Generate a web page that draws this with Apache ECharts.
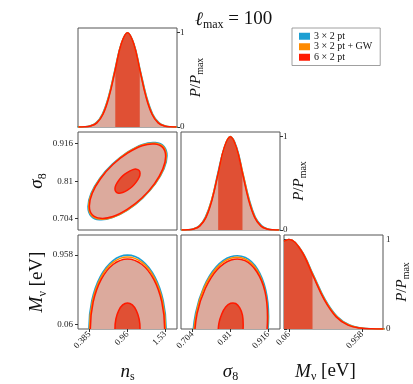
<!DOCTYPE html>
<html><head><meta charset="utf-8">
<script src="https://cdn.jsdelivr.net/npm/echarts@6/dist/echarts.min.js"></script>
<style>html,body{margin:0;padding:0;background:#fff}#c{width:413px;height:384px}</style>
</head><body><div id="c"></div>
<script>
// ---------- names / colours ----------
const seriesNames = ['3 × 2 pt', '3 × 2 pt + GW', '6 × 2 pt'];
const seriesColors = ['#1c9fd3', '#ff8a00', '#ff1a00'];
const fillLight = '#dcaa9d';
const fillDark = '#e05034';

// ---------- axes ----------
const nsTicks = [0.385, 0.96, 1.53];
const s8Ticks = [0.704, 0.81, 0.916];
const mnuTicks = [0.06, 0.958];
const pTicks = [0, 1];
const nsRange = [0.21, 1.71];
const s8Range = [0.672, 0.949];
const mnuRange = [0, 1.215];
const pRange = [0, 1.05];

// ---------- 1D marginals (P/Pmax) ----------
const pdfLevels = [0.0003,0.0022,0.0111,0.0439,0.1353,0.3247,0.6065,0.8825,1,0.8825,0.6065,0.3247,0.1353,0.0439,0.0111,0.0022,0.0003];
const ns1D_3x2pt   = [0.196,0.292,0.387,0.483,0.578,0.674,0.769,0.865,0.96,1.056,1.151,1.247,1.342,1.438,1.533,1.629,1.724];
const ns1D_3x2ptGW = [0.206,0.301,0.395,0.489,0.583,0.677,0.772,0.866,0.96,1.054,1.148,1.243,1.337,1.431,1.525,1.619,1.714];
const ns1D_6x2pt   = [0.218,0.311,0.403,0.496,0.589,0.682,0.775,0.867,0.96,1.053,1.146,1.238,1.331,1.424,1.517,1.609,1.702];
const s81D_3x2pt   = [0.670,0.688,0.705,0.723,0.740,0.758,0.775,0.793,0.81,0.828,0.845,0.863,0.880,0.898,0.915,0.933,0.950];
const s81D_3x2ptGW = [0.672,0.689,0.707,0.724,0.741,0.758,0.776,0.793,0.81,0.827,0.845,0.862,0.879,0.896,0.914,0.931,0.948];
const s81D_6x2pt   = [0.674,0.691,0.708,0.725,0.742,0.759,0.776,0.793,0.81,0.827,0.844,0.861,0.878,0.895,0.912,0.929,0.946];
const mnuPdf = [0.979,1,0.8825,0.6065,0.3247,0.1353,0.0439,0.0111,0.0022,0.0003];
const mnu1D_3x2pt   = [0,0.06,0.209,0.358,0.507,0.656,0.805,0.954,1.103,1.252];
const mnu1D_3x2ptGW = [0,0.06,0.207,0.354,0.501,0.648,0.795,0.942,1.089,1.236];
const mnu1D_6x2pt   = [0,0.06,0.205,0.35,0.495,0.64,0.785,0.93,1.075,1.22];
// 68% band (index ranges into the 6x2pt arrays above)
const nsBandIdx = [6, 10];
const s8BandIdx = [6, 10];
const mnuBandIdx = [0, 3];

// ---------- 2D contours (outer and inner) ----------
const nsS8_3x2pt = [[1.558,0.882],[1.513,0.908],[1.383,0.919],[1.189,0.914],[0.96,0.892],[0.731,0.858],[0.537,0.817],[0.407,0.775],[0.362,0.738],[0.407,0.712],[0.537,0.701],[0.731,0.707],[0.96,0.728],[1.189,0.762],[1.383,0.803],[1.513,0.845]];
const nsS8_3x2ptGW = [[1.548,0.881],[1.503,0.907],[1.376,0.917],[1.185,0.912],[0.96,0.891],[0.735,0.857],[0.544,0.817],[0.417,0.775],[0.372,0.739],[0.417,0.713],[0.544,0.703],[0.735,0.708],[0.96,0.729],[1.185,0.763],[1.376,0.803],[1.503,0.844]];
const nsS8_6x2pt = [[1.538,0.880],[1.494,0.905],[1.369,0.915],[1.181,0.910],[0.96,0.889],[0.739,0.857],[0.551,0.817],[0.426,0.776],[0.382,0.740],[0.426,0.715],[0.551,0.705],[0.739,0.710],[0.96,0.731],[1.181,0.763],[1.369,0.803],[1.494,0.844]];
const nsS8_6x2pt_in = [[1.150,0.832],[1.136,0.840],[1.094,0.844],[1.033,0.842],[0.96,0.835],[0.887,0.825],[0.826,0.812],[0.784,0.799],[0.770,0.788],[0.784,0.780],[0.826,0.776],[0.887,0.778],[0.96,0.785],[1.033,0.795],[1.094,0.808],[1.136,0.821]];

const nsMnu_3x2pt = [[1.545,0],[1.501,0.366],[1.374,0.675],[1.184,0.882],[0.96,0.955],[0.736,0.882],[0.546,0.675],[0.419,0.366],[0.375,0],[0.419,-0.366],[0.546,-0.675],[0.736,-0.882],[0.96,-0.955],[1.184,-0.882],[1.374,-0.675],[1.501,-0.366]];
const nsMnu_3x2ptGW = [[1.535,0],[1.491,0.357],[1.367,0.658],[1.180,0.860],[0.96,0.931],[0.740,0.860],[0.553,0.658],[0.429,0.357],[0.385,0],[0.429,-0.357],[0.553,-0.658],[0.740,-0.860],[0.96,-0.931],[1.180,-0.860],[1.367,-0.658],[1.491,-0.357]];
const nsMnu_6x2pt = [[1.523,0],[1.480,0.347],[1.358,0.641],[1.175,0.837],[0.96,0.906],[0.745,0.837],[0.562,0.641],[0.440,0.347],[0.397,0],[0.440,-0.347],[0.562,-0.641],[0.745,-0.837],[0.96,-0.906],[1.175,-0.837],[1.358,-0.641],[1.480,-0.347]];
const nsMnu_6x2pt_in = [[1.150,0],[1.136,0.129],[1.094,0.238],[1.033,0.311],[0.96,0.337],[0.887,0.311],[0.826,0.238],[0.784,0.129],[0.770,0],[0.784,-0.129],[0.826,-0.238],[0.887,-0.311],[0.96,-0.337],[1.033,-0.311],[1.094,-0.238],[1.136,-0.129]];

const s8Mnu_3x2pt = [[0.917,0.161],[0.909,0.506],[0.886,0.774],[0.852,0.924],[0.811,0.933],[0.770,0.801],[0.736,0.546],[0.713,0.208],[0.705,-0.161],[0.713,-0.506],[0.736,-0.774],[0.770,-0.924],[0.811,-0.933],[0.852,-0.801],[0.886,-0.546],[0.909,-0.208]];
const s8Mnu_3x2ptGW = [[0.915,0.158],[0.907,0.495],[0.885,0.757],[0.851,0.905],[0.811,0.913],[0.771,0.784],[0.737,0.535],[0.715,0.204],[0.707,-0.158],[0.715,-0.495],[0.737,-0.757],[0.771,-0.905],[0.811,-0.913],[0.851,-0.784],[0.885,-0.535],[0.907,-0.204]];
const s8Mnu_6x2pt = [[0.914,0.154],[0.907,0.484],[0.884,0.740],[0.851,0.884],[0.812,0.892],[0.773,0.766],[0.740,0.523],[0.717,0.199],[0.710,-0.154],[0.717,-0.484],[0.740,-0.740],[0.773,-0.884],[0.812,-0.892],[0.851,-0.766],[0.884,-0.523],[0.907,-0.199]];
const s8Mnu_6x2pt_in = [[0.846,0.057],[0.844,0.180],[0.836,0.275],[0.825,0.329],[0.811,0.332],[0.797,0.285],[0.786,0.194],[0.778,0.074],[0.776,-0.057],[0.778,-0.180],[0.786,-0.275],[0.797,-0.329],[0.811,-0.332],[0.825,-0.285],[0.836,-0.194],[0.844,-0.074]];

// ---------- helpers ----------
const SERIF = 'Liberation Serif';
const INK = '#111';
function rich(big, small) {
  return {
    i: {fontFamily: SERIF, fontStyle: 'italic', fontWeight: 'normal', fontSize: big, color: INK, lineHeight: big + 4},
    n: {fontFamily: SERIF, fontWeight: 'normal', fontSize: big, color: INK, lineHeight: big + 4},
    s: {fontFamily: SERIF, fontWeight: 'normal', fontSize: small, color: INK, lineHeight: small - 2, verticalAlign: 'bottom'}
  };
}
function contour(name, g, pts, fill, stroke, lw, z) {
  return {
    type: 'custom', name: name, xAxisIndex: g, yAxisIndex: g, coordinateSystem: 'cartesian2d',
    clip: true, silent: true, z: z, data: pts, itemStyle: {color: stroke},
    renderItem: function (params, api) {
      if (params.dataIndex !== 0) return null;
      const p = pts.map(function (q) { return api.coord(q); });
      return {type: 'polygon', shape: {points: p, smooth: 0.34},
              style: {fill: fill || 'none', stroke: stroke, lineWidth: lw}};
    }
  };
}
function curve(name, g, xs, ps, opt) {
  return Object.assign({
    type: 'line', name: name, xAxisIndex: g, yAxisIndex: g, silent: true,
    showSymbol: false, symbol: 'none', smooth: 0.4,
    data: xs.map(function (x, i) { return [x, ps[i]]; })
  }, opt);
}
function pdfPanel(g, xsB, xsO, xsR, ps, band) {
  const bx = xsR.slice(band[0], band[1] + 1), bp = ps.slice(band[0], band[1] + 1);
  return [
    curve(undefined, g, xsR, ps, {z: 2, lineStyle: {width: 0}, areaStyle: {color: fillLight, opacity: 1}}),
    curve(undefined, g, bx, bp, {z: 3, lineStyle: {width: 0}, areaStyle: {color: fillDark, opacity: 1}}),
    curve(seriesNames[0], g, xsB, ps, {z: 4, itemStyle: {color: seriesColors[0]}, lineStyle: {color: seriesColors[0], width: 1.6}}),
    curve(seriesNames[1], g, xsO, ps, {z: 5, itemStyle: {color: seriesColors[1]}, lineStyle: {color: seriesColors[1], width: 1.6}}),
    curve(seriesNames[2], g, xsR, ps, {z: 6, itemStyle: {color: seriesColors[2]}, lineStyle: {color: seriesColors[2], width: 1.5}})
  ];
}
function contourPanel(g, cb, co, cr, cin) {
  return [
    contour(seriesNames[0], g, cb, null, seriesColors[0], 1.6, 2),
    contour(seriesNames[1], g, co, null, seriesColors[1], 1.6, 3),
    contour(seriesNames[2], g, cr, fillLight, seriesColors[2], 1.5, 4),
    contour(seriesNames[2], g, cin, fillDark, seriesColors[2], 1.5, 5)
  ];
}
const fmt = function (v) { return String(v); };
function xAx(g, range, ticks, name, namePad) {
  const lab = !!name;
  return {
    type: 'value', gridIndex: g, min: range[0], max: range[1],
    axisLine: {show: false}, splitLine: {show: false},
    axisTick: {show: lab, customValues: ticks, length: 3, lineStyle: {color: '#333'}},
    axisLabel: {show: lab, customValues: ticks, formatter: fmt, rotate: 45, margin: 4,
                fontFamily: SERIF, fontSize: 9, color: '#222'},
    name: name || '', nameLocation: 'middle', nameGap: 31,
    nameTextStyle: {rich: rich(19, 12), padding: namePad || 0}
  };
}
function yAx(g, range, ticks, name, right, showLab) {
  return {
    type: 'value', gridIndex: g, min: range[0], max: range[1], position: right ? 'right' : 'left',
    axisLine: {show: false}, splitLine: {show: false},
    axisTick: {show: showLab, customValues: ticks, length: 3, lineStyle: {color: '#333'}},
    axisLabel: {show: showLab, customValues: ticks, formatter: fmt, margin: right ? 3 : 5,
                fontFamily: SERIF, fontSize: 9, color: '#222'},
    name: name || '', nameLocation: 'middle', nameRotate: 90, nameGap: right ? 9 : 29,
    nameTextStyle: right ? {rich: rich(15, 10)} : {rich: rich(19, 12)}
  };
}

const gridBox = {show: true, borderColor: '#555', borderWidth: 1, backgroundColor: 'transparent'};
const grids = [
  Object.assign({left: 78, top: 28, width: 99, height: 99}, gridBox),
  Object.assign({left: 78, top: 132, width: 99, height: 98}, gridBox),
  Object.assign({left: 181, top: 132, width: 99, height: 98}, gridBox),
  Object.assign({left: 78, top: 235, width: 99, height: 98}, gridBox),
  Object.assign({left: 181, top: 235, width: 99, height: 98}, gridBox),
  Object.assign({left: 284, top: 235, width: 99, height: 98}, gridBox)
];
const pName = '{i|P}{n|/}{i|P}{s|max}';

const option = {
  animation: false,
  backgroundColor: '#fff',
  title: {
    text: '{i|ℓ}{s|max}{n| = 100}', left: 190, top: 3,
    textStyle: {fontWeight: 'normal', rich: rich(19, 12)}
  },
  legend: {
    data: seriesNames.map(function (n) { return {name: n, icon: 'rect'}; }),
    orient: 'vertical', left: 292, top: 28, itemWidth: 11, itemHeight: 7, itemGap: 0,
    padding: [3, 8, 3, 7], borderColor: '#888', borderWidth: 0.8, backgroundColor: '#fff',
    textStyle: {fontFamily: SERIF, fontSize: 10, color: INK, lineHeight: 10.5, padding: [0, 0, 0, -1]},
    selectedMode: false
  },
  grid: grids,
  xAxis: [
    xAx(0, nsRange, nsTicks, null),
    xAx(1, nsRange, nsTicks, null),
    xAx(2, s8Range, s8Ticks, null),
    xAx(3, nsRange, nsTicks, '{i|n}{s|s}'),
    xAx(4, s8Range, s8Ticks, '{i|σ}{s|8}'),
    xAx(5, mnuRange, mnuTicks, '{i|M}{s|ν}{n| [eV]}', [0, 16, 0, 0])
  ],
  yAxis: [
    yAx(0, pRange, pTicks, pName, true, true),
    yAx(1, s8Range, s8Ticks, '{i|σ}{s|8}', false, true),
    yAx(2, pRange, pTicks, pName, true, true),
    yAx(3, mnuRange, mnuTicks, '{i|M}{s|ν}{n| [eV]}', false, true),
    yAx(4, mnuRange, mnuTicks, null, false, false),
    yAx(5, pRange, pTicks, pName, true, true)
  ],
  series: [].concat(
    contourPanel(1, nsS8_3x2pt, nsS8_3x2ptGW, nsS8_6x2pt, nsS8_6x2pt_in),
    contourPanel(3, nsMnu_3x2pt, nsMnu_3x2ptGW, nsMnu_6x2pt, nsMnu_6x2pt_in),
    contourPanel(4, s8Mnu_3x2pt, s8Mnu_3x2ptGW, s8Mnu_6x2pt, s8Mnu_6x2pt_in),
    pdfPanel(0, ns1D_3x2pt, ns1D_3x2ptGW, ns1D_6x2pt, pdfLevels, nsBandIdx),
    pdfPanel(2, s81D_3x2pt, s81D_3x2ptGW, s81D_6x2pt, pdfLevels, s8BandIdx),
    pdfPanel(5, mnu1D_3x2pt, mnu1D_3x2ptGW, mnu1D_6x2pt, mnuPdf, mnuBandIdx)
  )
};
const chart = echarts.init(document.getElementById('c'), null, {renderer: 'canvas'});
chart.setOption(option);
</script>
</body></html>
